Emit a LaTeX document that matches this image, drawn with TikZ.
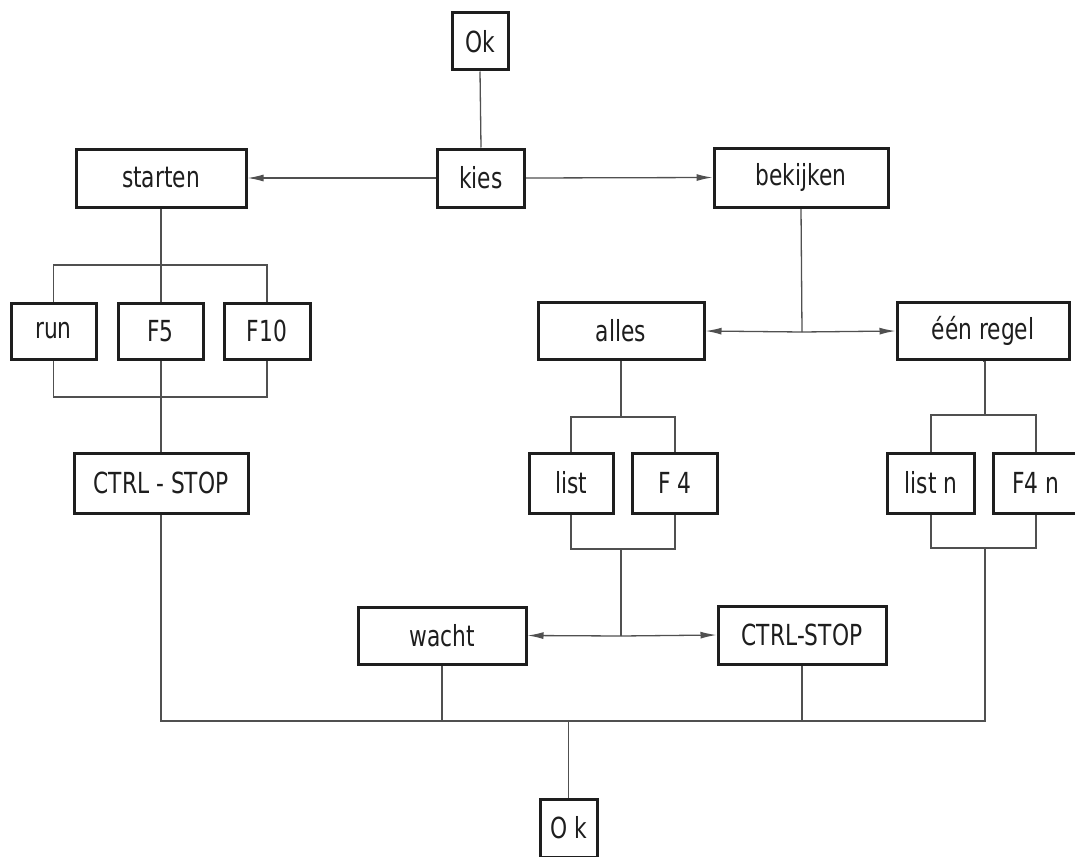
\documentclass[tikz,border=0pt]{standalone}
\usepackage{fontspec}
\setmainfont{DejaVu Sans}[FakeStretch=0.75]
\usetikzlibrary{arrows.meta,backgrounds}
\definecolor{ink}{HTML}{1E1E1E}
\definecolor{wire}{HTML}{505050}
\begin{document}
\begin{tikzpicture}[x=1pt,y=-1pt,
  box/.style={draw=ink,line width=3pt,fill=white,inner sep=0pt,text=ink,
    font=\fontsize{29}{34}\selectfont},
  wirel/.style={draw=wire,line width=1.3pt},
  arr/.style={wirel,-{Latex[length=16pt,width=7pt]}}]
\useasboundingbox (0,0) rectangle (1075,856);
% nodes
\node[box,minimum width=56pt,minimum height=57pt] (okT) at (480,41.5) {Ok};
\node[box,minimum width=87pt,minimum height=58pt] (kies) at (481,178) {kies};
\node[box,minimum width=170pt,minimum height=58pt] (starten) at (161,178) {starten};
\node[box,minimum width=174pt,minimum height=59pt] (bekijken) at (801,177.5) {bekijken};
\node[box,minimum width=85pt,minimum height=56pt] (run) at (53.5,331) {run};
\node[box,minimum width=85pt,minimum height=56pt] (f5) at (160.5,331) {F5};
\node[box,minimum width=86pt,minimum height=56pt] (f10) at (267,331) {F10};
\node[box,minimum width=174pt,minimum height=60pt] (ctrlL) at (161,483) {CTRL - STOP};
\node[box,minimum width=166pt,minimum height=57pt] (alles) at (621,331) {alles};
\node[box,minimum width=172pt,minimum height=57pt] (een) at (983,331) {één regel};
\node[box,minimum width=84pt,minimum height=60pt] (list) at (571,483) {list};
\node[box,minimum width=85pt,minimum height=60pt] (f4) at (675,483) {F 4};
\node[box,minimum width=87pt,minimum height=60pt] (listn) at (931,483) {list n};
\node[box,minimum width=86pt,minimum height=60pt] (f4n) at (1036,483) {F4 n};
\node[box,minimum width=168pt,minimum height=57pt] (wacht) at (442,635.5) {wacht};
\node[box,minimum width=168pt,minimum height=58pt] (ctrlR) at (802,635) {CTRL-STOP};
\node[box,minimum width=57pt,minimum height=58pt] (okB) at (568.5,828) {O k};
% junction coordinates
\coordinate (sT) at (160.5,265);
\coordinate (sB) at (160.5,397);
\coordinate (jB) at (802,332);
\coordinate (aT) at (621,417);
\coordinate (aB) at (621,549);
\coordinate (jW) at (621,636);
\coordinate (eT) at (985,415);
\coordinate (eB) at (985,548);
\coordinate (bL) at (161,721);
\coordinate (bR) at (985,721);
\begin{scope}[on background layer]
\draw[wirel] (okT.south) -- (kies.north);
\draw[arr] (kies.west) -- (starten.east);
\draw[arr] (kies.east) -- (bekijken.west);
% starten branch
\draw[wirel] (starten.south) -- (ctrlL.north);
\draw[wirel] (run.north) -- (run.north |- sT) -- (f10.north |- sT) -- (f10.north);
\draw[wirel] (run.south) -- (run.south |- sB) -- (f10.south |- sB) -- (f10.south);
% bekijken branch
\draw[wirel] (bekijken.south) -- (jB);
\draw[arr] (jB) -- (alles.east);
\draw[arr] (jB) -- (een.west);
\draw[wirel] (alles.south) -- (aT);
\draw[wirel] (list.north) -- (list.north |- aT) -- (f4.north |- aT) -- (f4.north);
\draw[wirel] (list.south) -- (list.south |- aB) -- (f4.south |- aB) -- (f4.south);
\draw[wirel] (aB) -- (jW);
\draw[arr] (jW) -- (wacht.east);
\draw[arr] (jW) -- (ctrlR.west);
\draw[wirel] (een.south) -- (een.south -| eT) -- (eT);
\draw[wirel] (listn.north) -- (listn.north |- eT) -- (f4n.north |- eT) -- (f4n.north);
\draw[wirel] (listn.south) -- (listn.south |- eB) -- (f4n.south |- eB) -- (f4n.south);
% bottom collector
\draw[wirel] (ctrlL.south) -- (bL) -- (bR) -- (eB);
\draw[wirel] (wacht.south) -- (wacht.south |- bL);
\draw[wirel] (ctrlR.south) -- (ctrlR.south |- bL);
\draw[wirel] (okB.north) -- (okB.north |- bL);
\end{scope}
\end{tikzpicture}
\end{document}
